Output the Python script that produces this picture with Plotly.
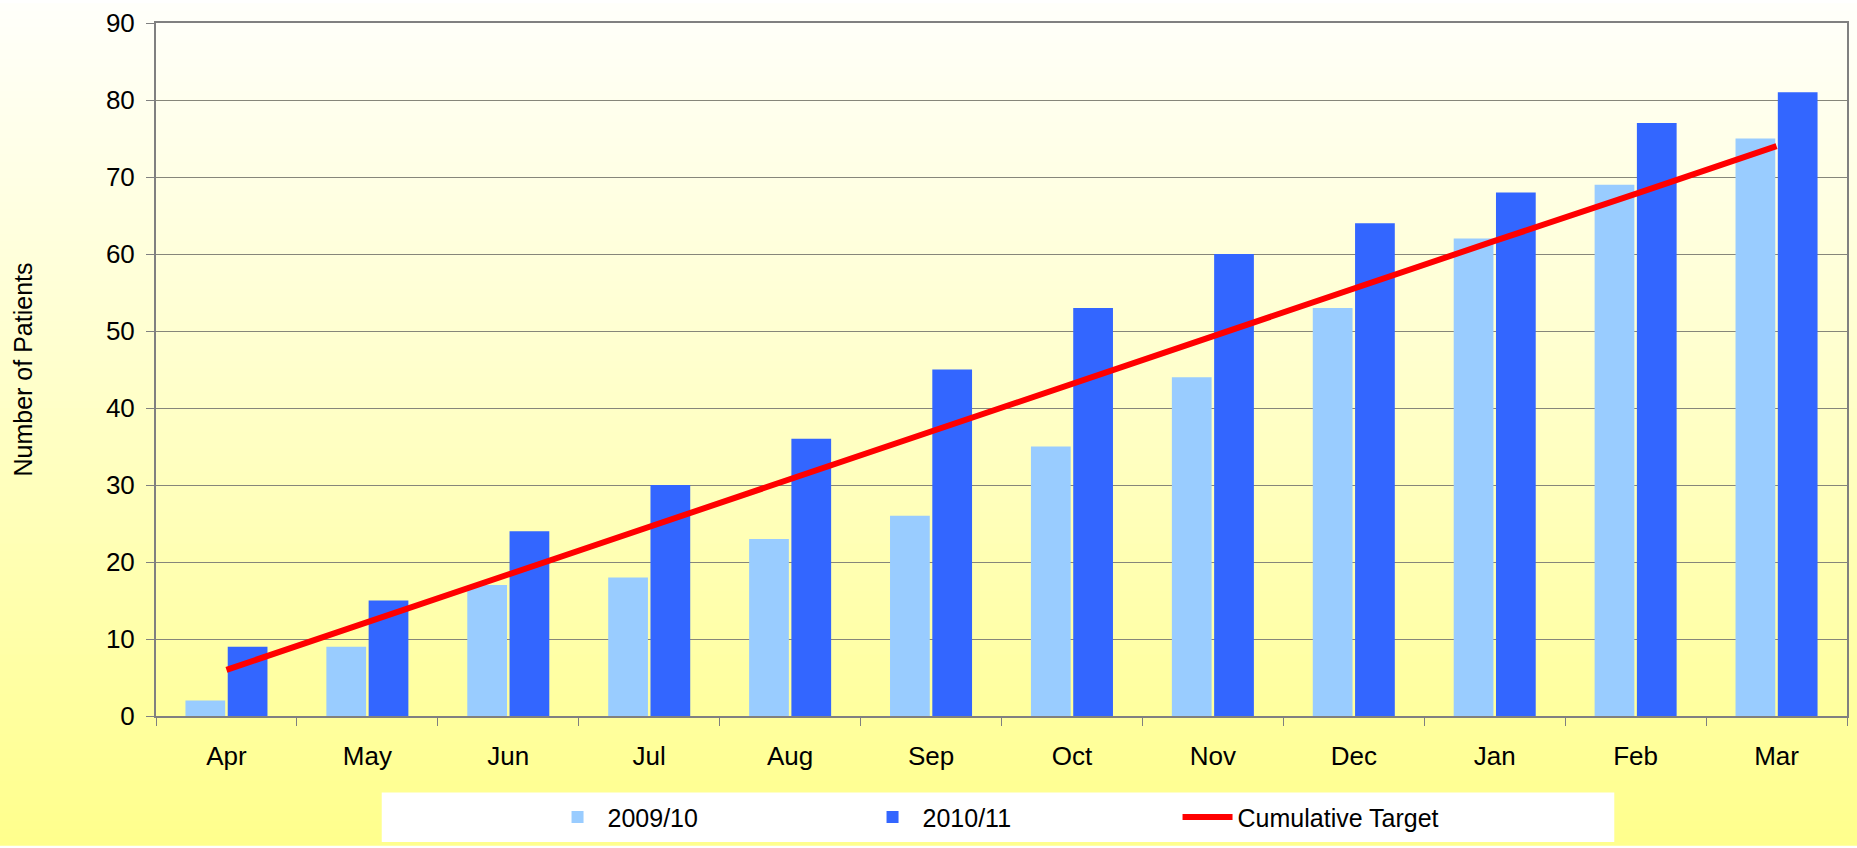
import plotly.graph_objects as go

months = ["Apr", "May", "Jun", "Jul", "Aug", "Sep", "Oct", "Nov", "Dec", "Jan", "Feb", "Mar"]
series_2009 = [2, 9, 17, 18, 23, 26, 35, 44, 53, 62, 69, 75]
series_2010 = [9, 15, 24, 30, 36, 45, 53, 60, 64, 68, 77, 81]
target = [6, 12.2, 18.5, 24.7, 30.8, 37, 43.2, 49.3, 55.5, 61.7, 67.8, 74]

W, H = 1857, 848
L, R, T, B = 156, 8, 20, 130
pw, ph = W - L - R, H - T - B

def px2x(px):
    return (px - L) / pw

def py2y(py):
    return (H - B - py) / ph

FONT = "Liberation Sans, Arial, sans-serif"

fig = go.Figure()
fig.add_trace(go.Bar(x=months, y=series_2009, name="2009/10", marker_color="#99CCFF", marker_line_width=0))
fig.add_trace(go.Bar(x=months, y=series_2010, name="2010/11", marker_color="#3366FF", marker_line_width=0))
fig.add_trace(go.Scatter(x=months, y=target, name="Cumulative Target", mode="lines",
                         line=dict(color="#FF0000", width=6)))

shapes = []
n = 106
step = H / n
for i in range(n):
    py0 = i * step
    py1 = (i + 1) * step + 0.8
    t = (i + 0.5) / n
    b = int(round(250 - 110 * t ** 1.05))
    shapes.append(dict(type="rect", xref="paper", yref="paper",
                       x0=px2x(-5), x1=px2x(W + 5), y0=py2y(py1), y1=py2y(py0),
                       fillcolor=f"rgb(255,255,{b})", line_width=0, layer="below"))
# legend box
shapes.append(dict(type="rect", xref="paper", yref="paper",
                   x0=px2x(382), x1=px2x(1616), y0=py2y(845), y1=py2y(795),
                   fillcolor="white", line_width=0, layer="below"))

fig.update_layout(
    width=W, height=H,
    margin=dict(l=L, r=R, t=T, b=B),
    paper_bgcolor="#FFFFFF",
    plot_bgcolor="rgba(0,0,0,0)",
    barmode="group", bargap=0.40, bargroupgap=0.06,
    font=dict(family=FONT, size=25, color="#000000"),
    shapes=shapes,
    showlegend=True,
    legend=dict(orientation="h", x=px2x(548), y=py2y(820), xanchor="left", yanchor="middle",
                bgcolor="rgba(0,0,0,0)", entrywidth=250, entrywidthmode="pixels",
                font=dict(family=FONT, size=25), itemwidth=50, traceorder="normal"),
    xaxis=dict(showline=True, linecolor="#808080", linewidth=2, mirror=True,
               ticks="outside", ticklen=8, tickcolor="#808080", tickwidth=1,
               tickson="boundaries", showgrid=False, ticklabelstandoff=16,
               tickfont=dict(size=26)),
    yaxis=dict(range=[0, 90], dtick=10, showline=True, linecolor="#808080", linewidth=2,
               mirror=True, ticks="outside", ticklen=8, tickcolor="#808080",
               showgrid=True, gridcolor="#86867a", gridwidth=1, zeroline=False,
               tickfont=dict(size=26), ticklabelstandoff=6,
               title=dict(text="Number of Patients", standoff=66, font=dict(size=25))),
)

fig.write_html("out.html", config={"displayModeBar": False},
               post_script="document.body.style.margin='0';document.body.style.overflow='hidden';")
